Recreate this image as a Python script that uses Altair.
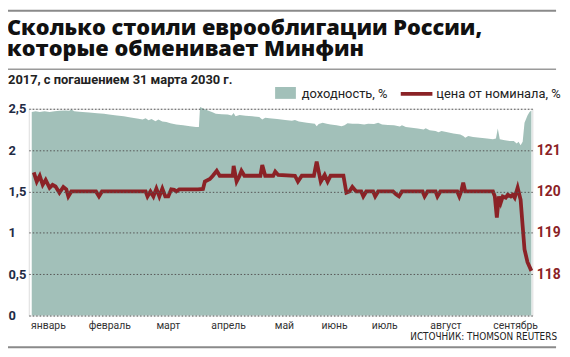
import altair as alt
import pandas as pd

# ---------------- data ----------------
yield_day = [2, 4.1, 6.3, 8.9, 11.6, 14.3, 16.9, 20.1, 22.2, 23.3, 24.9, 27.6, 32.9, 37.2, 40.9,
             43.6, 47.8, 51.5, 55.3, 59.5, 61.7, 63.3, 64.9, 66.5, 68.6, 70.2, 72.3, 74.5, 76.6,
             79.8, 83.5, 87.2, 90.4, 92.0, 92.6, 94.7, 96.8, 99.0, 101.1, 104.3, 107.5, 109.6,
             110.7, 111.7, 113.9, 117.1, 120.8, 124.5, 126.1, 127.7, 129.9, 134.1, 138.4, 142.1,
             143.7, 145.8, 150.1, 154.4, 155.4, 156.5, 158.6, 160.8, 162.9, 166.1, 168.8, 170.4,
             172.0, 174.6, 177.8, 181.0, 183.1, 186.3, 188.5, 190.6, 193.8, 197.0, 200.2, 201.3,
             203.4, 206.6, 209.8, 213.0, 214.1, 216.2, 219.4, 221.0, 222.6, 225.8, 229.0, 232.7,
             234.3, 235.4, 237.0, 239.6, 243.3, 247.1, 250.3, 251.9, 252.9, 254.0, 256.7, 259.3,
             261.5, 263.1, 264.1, 265.2, 266.3, 267.3, 268.9, 270.0, 271.0]
yield_val = [2.46, 2.47, 2.46, 2.47, 2.46, 2.47, 2.475, 2.48, 2.475, 2.49, 2.47, 2.465, 2.455,
             2.445, 2.44, 2.43, 2.42, 2.41, 2.395, 2.38, 2.37, 2.385, 2.36, 2.375, 2.35, 2.37,
             2.345, 2.34, 2.325, 2.31, 2.30, 2.29, 2.28, 2.28, 2.52, 2.50, 2.48, 2.46, 2.44,
             2.435, 2.43, 2.42, 2.45, 2.41, 2.425, 2.415, 2.41, 2.40, 2.37, 2.39, 2.385, 2.375,
             2.365, 2.355, 2.365, 2.345, 2.33, 2.32, 2.29, 2.315, 2.33, 2.32, 2.31, 2.30, 2.29,
             2.30, 2.325, 2.32, 2.32, 2.31, 2.32, 2.315, 2.33, 2.31, 2.305, 2.30, 2.285, 2.30,
             2.28, 2.27, 2.26, 2.25, 2.265, 2.24, 2.23, 2.215, 2.23, 2.215, 2.20, 2.19, 2.17,
             2.15, 2.17, 2.16, 2.15, 2.14, 2.13, 2.14, 2.26, 2.13, 2.12, 2.11, 2.11, 2.08, 2.10,
             2.06, 2.10, 2.33, 2.42, 2.46, 2.48]

price_day = [3.1, 4.7, 6.3, 7.9, 9.5, 11.6, 13.2, 14.8, 16.9, 19.0, 20.6, 21.7, 23.3, 36.6, 38.2,
             39.8, 63.3, 64.3, 65.9, 67.5, 69.1, 70.7, 72.3, 73.9, 75.5, 77.1, 78.7, 79.8, 81.4,
             91.5, 94.2, 95.2, 97.9, 99.5, 101.6, 103.2, 110.2, 110.7, 112.3, 113.9, 114.9, 116.5,
             125.1, 126.1, 127.7, 132.0, 133.1, 134.7, 143.7, 145.3, 147.4, 153.9, 155.4, 157.6,
             159.7, 161.3, 162.9, 169.8, 171.4, 173.0, 174.6, 176.7, 179.4, 180.5, 182.1, 185.8,
             186.9, 188.5, 196.5, 198.1, 199.7, 201.3, 212.4, 213.5, 215.1, 219.4, 220.4, 222.0,
             231.1, 232.2, 233.2, 234.3, 235.4, 250.3, 251.3, 252.4, 253.5, 254.5, 255.6, 257.2,
             258.3, 259.9, 260.9, 262.0, 263.6, 265.2, 266.3, 267.3, 268.9, 271.0]
price_val = [120.46, 120.24, 120.38, 120.16, 120.28, 120.09, 120.16, 120.12, 119.97, 120.11,
             120.05, 119.88, 120.0, 120.0, 119.88, 120.0, 120.0, 119.88, 120.0, 119.88, 120.07,
             119.88, 120.07, 119.88, 119.88, 120.05, 120.04, 120.0, 120.05, 120.05, 120.06,
             120.24, 120.3, 120.38, 120.5, 120.38, 120.38, 120.62, 120.24, 120.38, 120.5, 120.38,
             120.38, 120.64, 120.38, 120.38, 120.48, 120.40, 120.38, 120.24, 120.38, 120.38,
             120.72, 120.24, 120.40, 120.24, 120.38, 120.38, 119.97, 120.0, 120.11, 120.0, 120.0,
             119.88, 120.0, 120.0, 119.88, 120.0, 120.0, 119.93, 119.88, 120.0, 120.0, 119.88,
             120.0, 120.0, 119.88, 120.0, 120.0, 119.88, 120.0, 120.21, 120.0, 120.0, 119.88,
             119.37, 119.88, 119.73, 119.88, 119.85, 119.92, 119.88, 119.92, 119.85, 120.09,
             119.8, 119.16, 118.6, 118.29, 118.08]

month_names = ["январь", "февраль", "март", "апрель", "май", "июнь", "июль", "август", "сентябрь"]
month_day = [11, 44, 75.5, 108, 138, 165, 192, 225, 262.5]

left_ticks = [0, 0.5, 1, 1.5, 2, 2.5]
right_ticks = [118, 119, 120, 121]

title_lines = ["Сколько стоили еврооблигации России,", "которые обменивает Минфин"]
subtitle = "2017, с погашением 31 марта 2030 г."
legend_labels = ["доходность, %", "цена от номинала, %"]
source = "ИСТОЧНИК: THOMSON REUTERS"

# ---------------- styling ----------------
AREA = "#a2c0b9"
RED = "#8b2226"
NAVY = "#1f2b45"
FONT = "Roboto"
TFONT = "Open Sans"
XDOM = [0.4, 271.5]
W, H = 509, 209

yield_df = pd.DataFrame({"day": yield_day, "yield": yield_val})
price_df = pd.DataFrame({"day": price_day, "price": price_val})
month_df = pd.DataFrame({"day": month_day, "name": month_names})
one = pd.DataFrame({"k": [0]})

xs = alt.Scale(domain=XDOM, nice=False, zero=False)

area = alt.Chart(yield_df).mark_area(color=AREA, opacity=1).encode(
    x=alt.X("day:Q", scale=xs, axis=None),
    y=alt.Y("yield:Q", scale=alt.Scale(domain=[0, 2.5], nice=False),
            axis=alt.Axis(values=left_ticks, title=None, grid=True, gridDash=[1.5, 2],
                          gridColor="#555555", gridWidth=1, domain=False, ticks=False,
                          labelAlign="left", labelPadding=21, labelFontSize=13,
                          labelFontWeight="bold", labelColor=NAVY, labelFont=FONT,
                          labelBaseline="middle", zindex=1,
                          labelExpr="replace(toString(datum.value), '.', ',')")),
)

line = alt.Chart(price_df).mark_line(color=RED, strokeWidth=3.8, strokeJoin="miter",
                                     interpolate="linear").encode(
    x=alt.X("day:Q", scale=xs, axis=None),
    y=alt.Y("price:Q", scale=alt.Scale(domain=[117, 122], nice=False, zero=False),
            axis=alt.Axis(orient="right", values=right_ticks, title=None, grid=False,
                          domain=False, ticks=False, labelPadding=4, labelFontSize=14,
                          labelFontWeight="bold", labelColor=RED, labelFont=FONT,
                          labelBaseline="middle")),
)

months = alt.Chart(month_df).mark_text(font=FONT, fontSize=10.5, color="#333333",
                                       baseline="alphabetic", align="center").encode(
    x=alt.X("day:Q", scale=xs, axis=None),
    y=alt.value(223),
    text="name:N",
)

def txt(s, x, y, size, weight="normal", color="#111111", align="left", font=FONT, **kw):
    return alt.Chart(pd.DataFrame({"t": [s]})).mark_text(
        font=font, fontSize=size, fontWeight=weight, color=color, align=align,
        baseline="alphabetic", **kw).encode(x=alt.value(x), y=alt.value(y), text="t:N")

def hrule(y, x1, x2, color, width):
    return alt.Chart(one).mark_rule(color=color, strokeWidth=width).encode(
        x=alt.value(x1), x2=alt.value(x2), y=alt.value(y))

title = txt("\n".join(title_lines), -22, -75, 22, 800, "#111111", font=TFONT,
            lineBreak="\n", lineHeight=22)
sub = txt(subtitle, -21, -25, 13, "bold", "#222222")
leg1 = txt(legend_labels[0], 276, -11, 13, "normal", "#222222")
leg2 = txt(legend_labels[1], 412, -11, 13, "normal", "#222222")
src = txt(source, 534, 234, 10, "normal", "#222222", "right",
          "Liberation Sans Narrow, DejaVu Sans Condensed, sans-serif")

swatch = alt.Chart(one).mark_rect(color=AREA).encode(
    x=alt.value(249), x2=alt.value(270), y=alt.value(-22), y2=alt.value(-10))
legline = alt.Chart(one).mark_rule(color=RED, strokeWidth=3.8).encode(
    x=alt.value(376), x2=alt.value(408), y=alt.value(-15))

r1 = hrule(-99, -21, 533, "#8a8a8a", 2)
r2 = hrule(-40, -21, 533, "#9a9a9a", 1.5)
r3 = hrule(241, -21, 533, "#8a8a8a", 2)

chart = alt.layer(
    area, line, months, title, sub, leg1, leg2, src, swatch, legline, r1, r2, r3
).resolve_scale(y="independent").properties(
    width=W, height=H,
    autosize=alt.AutoSizeParams(type="none"),
    padding={"left": 21, "top": 100, "right": 30, "bottom": 33},
).configure_view(stroke=None).configure(background="white")

chart.save("out.html", embed_options={"renderer": "svg", "actions": False})
